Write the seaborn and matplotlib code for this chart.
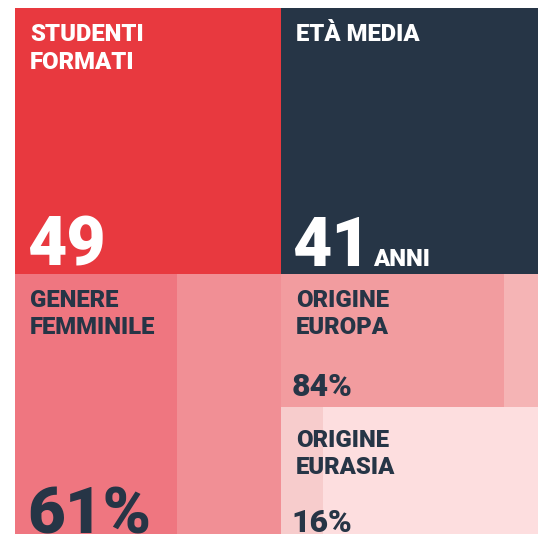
import matplotlib
matplotlib.use("Agg")
import matplotlib.pyplot as plt
import seaborn as sns
import pandas as pd

# ---- data ----
tile_names = ["students", "age", "female", "europe", "eurasia"]
tile_titles = [["STUDENTI", "FORMATI"], ["ETÀ MEDIA"], ["GENERE", "FEMMINILE"],
               ["ORIGINE", "EUROPA"], ["ORIGINE", "EURASIA"]]
tile_values = ["49", "41", "61%", "84%", "16%"]
age_unit = "ANNI"
share_tiles = ["female", "europe", "eurasia"]
share_values = [61, 84, 16]

# ---- style ----
sns.set_theme(style="white")
plt.rcParams["font.family"] = ["Roboto", "DejaVu Sans"]

W, H = 538, 534
fig = plt.figure(figsize=(W / 100, H / 100), dpi=100)
fig.patch.set_facecolor("white")

DARK = "#263546"
RED = "#E8393F"
# tile geometry in pixels (left, top, right, bottom)
geom = {
    "students": (14.5, 8, 280.5, 274),
    "age": (280.5, 8, 546.5, 274),
    "female": (14.5, 274, 280.5, 540),
    "europe": (280.5, 274, 546.5, 407),
    "eurasia": (280.5, 407, 546.5, 540),
}
bg = {"students": RED, "age": DARK, "female": "#F18F95",
      "europe": "#F5B4B5", "eurasia": "#FDDEDF"}
fill = {"female": "#EF7680", "europe": "#F29C9F", "eurasia": "#F7CCCC"}


def fx(x):
    return x / W


def fy(y):
    return 1 - y / H


axes = {}
for name in tile_names:
    l, t, r, b = geom[name]
    ax = fig.add_axes([fx(l), fy(b), (r - l) / W, (b - t) / H])
    ax.set_facecolor(bg[name])
    ax.set_xlim(0, 100)
    ax.set_ylim(-0.5, 0.5)
    ax.set_axis_off()
    ax.add_patch(plt.Rectangle((0, 0), 1, 1, transform=ax.transAxes,
                               facecolor=bg[name], edgecolor="none",
                               linewidth=0, zorder=0))
    axes[name] = ax

for name, val in zip(share_tiles, share_values):
    ax = axes[name]
    df = pd.DataFrame({"share": [val], "cat": [name]})
    sns.barplot(data=df, x="share", y="cat", orient="h", width=1.0,
                color=fill[name], saturation=1, ax=ax, zorder=1,
                edgecolor="none", linewidth=0)
    ax.set_xlim(0, 100)
    ax.set_ylim(0.5, -0.5)
    ax.set_axis_off()

HEAD = 17.2
BIG = 49
MID = 23
WEIGHT = "heavy"

# text placement (pixel coordinates: x, baselines)
title_pos = {
    "students": (30, [41, 68.6], "white"),
    "age": (296, [41], "white"),
    "female": (30, [307.4, 334], DARK),
    "europe": (296, [307.4, 334], DARK),
    "eurasia": (296, [447, 474.5], DARK),
}
value_pos = {
    "students": (27, 266, BIG, "white"),
    "age": (292, 266, BIG, "white"),
    "female": (27, 533.5, 47, DARK),
    "europe": (292, 396, MID, DARK),
    "eurasia": (291, 532.5, MID, DARK),
}

for name, lines, val in zip(tile_names, tile_titles, tile_values):
    x, ys, col = title_pos[name]
    for line, y in zip(lines, ys):
        fig.text(fx(x), fy(y), line, fontsize=HEAD, fontweight=WEIGHT,
                 color=col, va="baseline", ha="left")
    vx, vy, fs, vcol = value_pos[name]
    fig.text(fx(vx), fy(vy), val, fontsize=fs, fontweight=WEIGHT,
             color=vcol, va="baseline", ha="left")

fig.text(fx(373), fy(266), age_unit, fontsize=HEAD, fontweight=WEIGHT,
         color="white", va="baseline", ha="left")

fig.savefig("out.png", dpi=100)
